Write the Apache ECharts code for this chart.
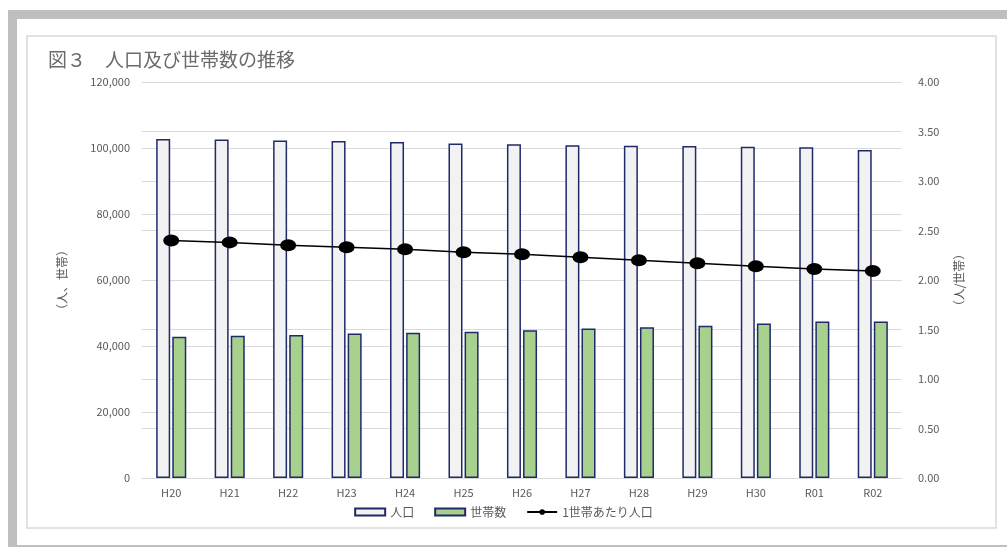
<!DOCTYPE html>
<html>
<head>
<meta charset="utf-8">
<script src="https://cdn.jsdelivr.net/npm/echarts@6/dist/echarts.min.js"></script>
<style>
  html, body { margin: 0; padding: 0; background: #fff; }
  #chart { width: 1007px; height: 547px; }
</style>
</head>
<body>
<div id="chart"></div>
<script>
var years = ["H20", "H21", "H22", "H23", "H24", "H25", "H26", "H27", "H28", "H29", "H30", "R01", "R02"];
var population = [102700, 102600, 102300, 102100, 101800, 101400, 101100, 100800, 100700, 100600, 100400, 100200, 99400];
var households = [42800, 43100, 43300, 43800, 44000, 44300, 44800, 45300, 45700, 46100, 46800, 47400, 47400];
var perHousehold = [2.40, 2.38, 2.35, 2.33, 2.31, 2.28, 2.26, 2.23, 2.20, 2.17, 2.14, 2.11, 2.09];

var myChart = echarts.init(document.getElementById("chart"));
var font = "'Noto Sans CJK JP', 'Noto Sans', sans-serif";
var textGray = "#595959";
var navy = "#1f2a6b";
var gridGray = "#d9d9d9";

var option = {
  animation: false,
  textStyle: { fontFamily: font },
  graphic: [
    // outer gray frame
    { type: "rect", shape: { x: 8, y: 10, width: 999, height: 9 }, style: { fill: "#bfbfbf" } },
    { type: "rect", shape: { x: 8, y: 10, width: 9, height: 537 }, style: { fill: "#bfbfbf" } },
    { type: "rect", shape: { x: 8, y: 545, width: 999, height: 2 }, style: { fill: "#bfbfbf" } },
    // chart area border
    { type: "rect", shape: { x: 27, y: 36, width: 969, height: 492 }, style: { fill: "none", stroke: gridGray, lineWidth: 1.5 } }
  ],
  title: {
    text: "図３　人口及び世帯数の推移",
    left: 43,
    top: 45,
    textStyle: { color: "#6b6b6b", fontSize: 19, fontWeight: "normal", fontFamily: font }
  },
  legend: {
    bottom: 24,
    left: "center",
    itemWidth: 30,
    itemHeight: 7,
    itemGap: 20,
    textStyle: { color: textGray, fontSize: 12, fontFamily: font },
    data: [
      { name: "人口", icon: "rect" },
      { name: "世帯数", icon: "rect" },
      { name: "1世帯あたり人口" }
    ]
  },
  grid: { left: 142, right: 105, top: 82, bottom: 69 },
  xAxis: {
    type: "category",
    data: years,
    axisLine: { lineStyle: { color: gridGray, width: 1 } },
    axisTick: { show: false },
    axisLabel: { color: textGray, fontSize: 11, margin: 9 }
  },
  yAxis: [
    {
      type: "value",
      min: 0,
      max: 120000,
      interval: 20000,
      name: "（人、世帯）",
      nameLocation: "middle",
      nameRotate: 90,
      nameGap: 74,
      nameTextStyle: { color: textGray, fontSize: 12 },
      axisLabel: {
        color: textGray,
        fontSize: 11,
        margin: 12,
        formatter: function (v) { return v.toLocaleString("en-US"); }
      },
      axisLine: { show: false },
      axisTick: { show: false },
      splitLine: { lineStyle: { color: gridGray, width: 1 } }
    },
    {
      type: "value",
      min: 0,
      max: 4,
      interval: 0.5,
      name: "（人/世帯）",
      nameLocation: "middle",
      nameRotate: 90,
      nameGap: 51,
      nameTextStyle: { color: textGray, fontSize: 12 },
      axisLabel: {
        color: textGray,
        fontSize: 11,
        margin: 16,
        formatter: function (v) { return v.toFixed(2); }
      },
      axisLine: { show: false },
      axisTick: { show: false },
      splitLine: { lineStyle: { color: gridGray, width: 1 } }
    }
  ],
  series: [
    {
      name: "人口",
      type: "bar",
      data: population,
      barWidth: 14,
      barGap: "15%",
      itemStyle: { color: "#f2f2f2", borderColor: navy, borderWidth: 1.5 }
    },
    {
      name: "世帯数",
      type: "bar",
      data: households,
      barWidth: 14,
      itemStyle: { color: "#a9d18e", borderColor: navy, borderWidth: 1.5 }
    },
    {
      name: "1世帯あたり人口",
      type: "line",
      yAxisIndex: 1,
      data: perHousehold,
      symbol: "circle",
      symbolSize: [16, 12],
      lineStyle: { color: "#000", width: 1.5 },
      itemStyle: { color: "#000" }
    }
  ]
};

myChart.setOption(option);
</script>
</body>
</html>
